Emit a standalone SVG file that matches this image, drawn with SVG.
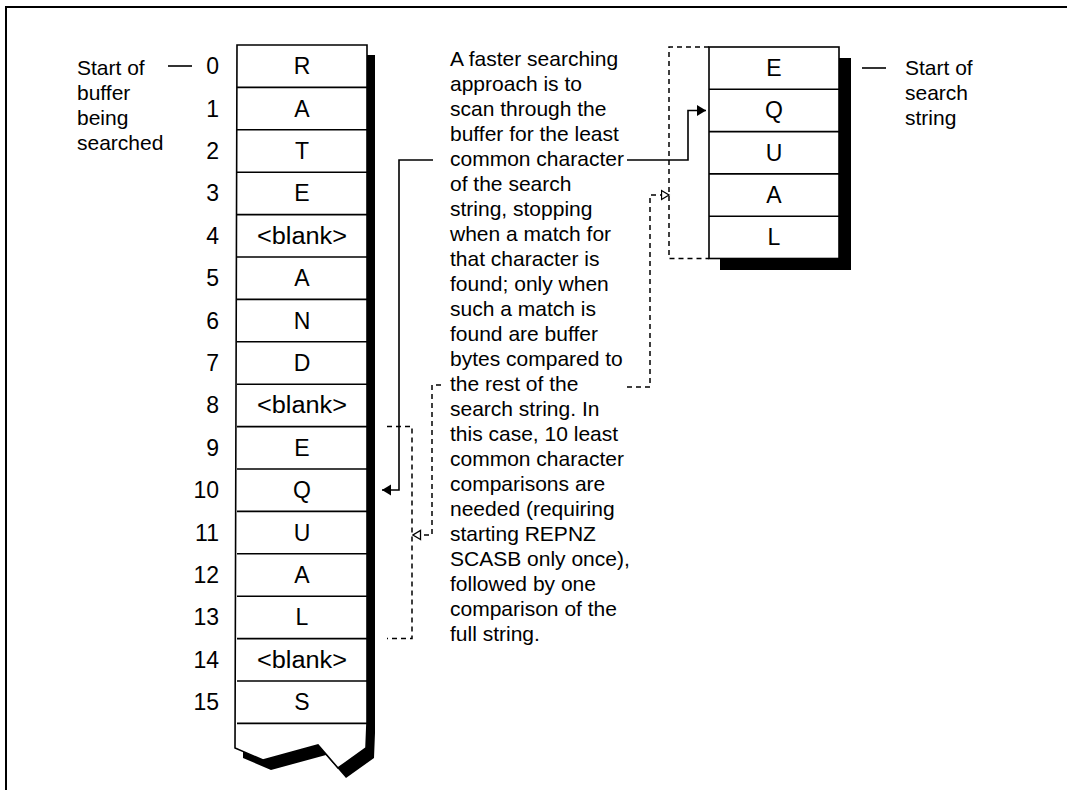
<svg xmlns="http://www.w3.org/2000/svg" width="1067" height="790" viewBox="0 0 1067 790">
<style>
text{font-family:"Liberation Sans",Arial,sans-serif;fill:#000}
.lbl{font-size:21px}
.num{font-size:23px;text-anchor:end}
.cell{font-size:23px;text-anchor:middle}
.box{fill:#fff;stroke:#000;stroke-width:1.6}
.rl{stroke:#000;stroke-width:1.6}
.sol{fill:none;stroke:#000;stroke-width:1.6}
.dsh{fill:none;stroke:#000;stroke-width:1.5;stroke-dasharray:5 4}
</style>
<defs>
<marker id="fa" markerUnits="userSpaceOnUse" markerWidth="10" markerHeight="12" refX="9" refY="6" orient="auto">
<path d="M0,0.5 L9,6 L0,11.5 z" fill="#000"/>
</marker>
<marker id="oa" markerUnits="userSpaceOnUse" markerWidth="10" markerHeight="12" refX="8.5" refY="6" orient="auto">
<path d="M1,1.5 L8.5,6 L1,10.5 z" fill="#fff" stroke="#000" stroke-width="1.3"/>
</marker>
</defs>
<rect width="1067" height="790" fill="#fff"/>
<path d="M6,790 V7 H1067" fill="none" stroke="#000" stroke-width="2"/>

<g id="buffer-label">
<text class="lbl" x="77" y="75">Start of</text>
<text class="lbl" x="77" y="100">buffer</text>
<text class="lbl" x="77" y="125">being</text>
<text class="lbl" x="77" y="150">searched</text>
<line class="rl" x1="168" y1="66" x2="192" y2="66"/>
</g>

<g id="buffer">
<path d="M245,55 H375 V733 L374,758 L346,778 L326,755 L271,770 L243,758 Z" fill="#000"/>
<path class="box" d="M237,45 H367 V723 L366,748 L338,768 L318,745 L263,760 L235,748 Z"/>
<g class="rl">
<line x1="237" y1="87.4" x2="367" y2="87.4"/>
<line x1="237" y1="129.8" x2="367" y2="129.8"/>
<line x1="237" y1="172.2" x2="367" y2="172.2"/>
<line x1="237" y1="214.6" x2="367" y2="214.6"/>
<line x1="237" y1="257" x2="367" y2="257"/>
<line x1="237" y1="299.4" x2="367" y2="299.4"/>
<line x1="237" y1="341.8" x2="367" y2="341.8"/>
<line x1="237" y1="384.2" x2="367" y2="384.2"/>
<line x1="237" y1="426.6" x2="367" y2="426.6"/>
<line x1="237" y1="469" x2="367" y2="469"/>
<line x1="237" y1="511.4" x2="367" y2="511.4"/>
<line x1="237" y1="553.8" x2="367" y2="553.8"/>
<line x1="237" y1="596.2" x2="367" y2="596.2"/>
<line x1="237" y1="638.6" x2="367" y2="638.6"/>
<line x1="237" y1="681" x2="367" y2="681"/>
<line x1="237" y1="723.4" x2="367" y2="723.4"/>
</g>
<g>
<text class="num" x="219" y="74">0</text>
<text class="num" x="219" y="117">1</text>
<text class="num" x="219" y="159">2</text>
<text class="num" x="219" y="201">3</text>
<text class="num" x="219" y="244">4</text>
<text class="num" x="219" y="286">5</text>
<text class="num" x="219" y="329">6</text>
<text class="num" x="219" y="371">7</text>
<text class="num" x="219" y="413">8</text>
<text class="num" x="219" y="456">9</text>
<text class="num" x="219" y="498">10</text>
<text class="num" x="219" y="541">11</text>
<text class="num" x="219" y="583">12</text>
<text class="num" x="219" y="625">13</text>
<text class="num" x="219" y="668">14</text>
<text class="num" x="219" y="710">15</text>
</g>
<g>
<text class="cell" x="302" y="74">R</text>
<text class="cell" x="302" y="117">A</text>
<text class="cell" x="302" y="159">T</text>
<text class="cell" x="302" y="201">E</text>
<text class="cell" x="302" y="244" textLength="90" lengthAdjust="spacingAndGlyphs">&lt;blank&gt;</text>
<text class="cell" x="302" y="286">A</text>
<text class="cell" x="302" y="329">N</text>
<text class="cell" x="302" y="371">D</text>
<text class="cell" x="302" y="413" textLength="90" lengthAdjust="spacingAndGlyphs">&lt;blank&gt;</text>
<text class="cell" x="302" y="456">E</text>
<text class="cell" x="302" y="498">Q</text>
<text class="cell" x="302" y="541">U</text>
<text class="cell" x="302" y="583">A</text>
<text class="cell" x="302" y="625">L</text>
<text class="cell" x="302" y="668" textLength="90" lengthAdjust="spacingAndGlyphs">&lt;blank&gt;</text>
<text class="cell" x="302" y="710">S</text>
</g>
</g>

<g id="explanation">
<text class="lbl" x="450" y="66">
<tspan x="450" dy="0">A faster searching</tspan>
<tspan x="450" dy="25">approach is to</tspan>
<tspan x="450" dy="25">scan through the</tspan>
<tspan x="450" dy="25">buffer for the least</tspan>
<tspan x="450" dy="25">common character</tspan>
<tspan x="450" dy="25">of the search</tspan>
<tspan x="450" dy="25">string, stopping</tspan>
<tspan x="450" dy="25">when a match for</tspan>
<tspan x="450" dy="25">that character is</tspan>
<tspan x="450" dy="25">found; only when</tspan>
<tspan x="450" dy="25">such a match is</tspan>
<tspan x="450" dy="25">found are buffer</tspan>
<tspan x="450" dy="25">bytes compared to</tspan>
<tspan x="450" dy="25">the rest of the</tspan>
<tspan x="450" dy="25">search string. In</tspan>
<tspan x="450" dy="25">this case, 10 least</tspan>
<tspan x="450" dy="25">common character</tspan>
<tspan x="450" dy="25">comparisons are</tspan>
<tspan x="450" dy="25">needed (requiring</tspan>
<tspan x="450" dy="25">starting REPNZ</tspan>
<tspan x="450" dy="25">SCASB only once),</tspan>
<tspan x="450" dy="25">followed by one</tspan>
<tspan x="450" dy="25">comparison of the</tspan>
<tspan x="450" dy="25">full string.</tspan>
</text>
</g>

<g id="search-string">
<rect x="720" y="58" width="131" height="212" fill="#000"/>
<rect class="box" x="709" y="47" width="130" height="211.5"/>
<g class="rl">
<line x1="709" y1="89.3" x2="839" y2="89.3"/>
<line x1="709" y1="131.6" x2="839" y2="131.6"/>
<line x1="709" y1="173.9" x2="839" y2="173.9"/>
<line x1="709" y1="216.2" x2="839" y2="216.2"/>
</g>
<text class="cell" x="774" y="76">E</text>
<text class="cell" x="774" y="118">Q</text>
<text class="cell" x="774" y="161">U</text>
<text class="cell" x="774" y="203">A</text>
<text class="cell" x="774" y="245">L</text>
</g>

<g id="search-label">
<line class="rl" x1="862" y1="68" x2="886" y2="68"/>
<text class="lbl" x="905" y="75">Start of</text>
<text class="lbl" x="905" y="100">search</text>
<text class="lbl" x="905" y="125">string</text>
</g>

<g id="connectors">
<polyline class="sol" points="433,160 399,160 399,490 382,490" marker-end="url(#fa)"/>
<polyline class="sol" points="627,160 688,160 688,110.5 706,110.5" marker-end="url(#fa)"/>
<polyline class="dsh" points="387,426.6 412,426.6 412,638.6 387,638.6"/>
<polyline class="dsh" points="441,385 432,385 432,535 413,535" marker-end="url(#oa)"/>
<polyline class="dsh" points="709,47 669,47 669,258.5 709,258.5"/>
<polyline class="dsh" points="627,387 650,387 650,195 669,195" marker-end="url(#oa)"/>
</g>
</svg>
